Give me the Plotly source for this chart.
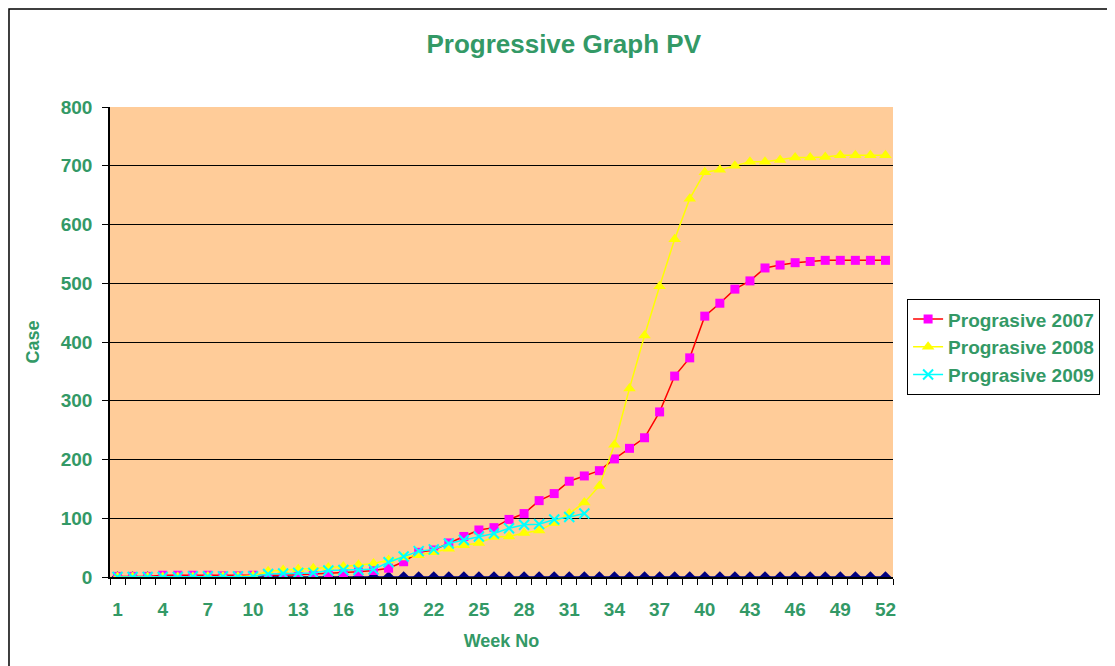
import plotly.graph_objects as go

weeks = list(range(1, 53))

prog_2007 = [1, 1, 1, 3, 3, 3, 3, 2, 2, 3, 3, 3, 4, 5, 6, 7, 9, 11, 15, 26,
             42, 46, 58, 69, 80, 84, 98, 108, 130, 142, 163, 172, 181, 201, 219, 237,
             281, 342, 373, 444, 466, 490, 504, 526, 531, 535, 537, 539, 539, 539, 539, 539]
prog_2008 = [0, 0, 0, 0, 0, 0, 1, 1, 1, 2, 10, 12, 13, 15, 16, 18, 21, 23, 29, 33,
             37, 42, 48, 54, 58, 68, 69, 75, 79, 92, 108, 127, 155, 225, 321, 411,
             495, 575, 644, 689, 693, 700, 707, 707, 710, 714, 714, 715, 718, 718, 718, 718]
prog_2009 = [0, 0, 0, 0, 0, 1, 1, 1, 1, 1, 5, 6, 7, 7, 11, 12, 12, 13, 25, 35,
             44, 47, 57, 63, 69, 74, 83, 89, 90, 98, 102, 108]
baseline = [0] * 52

x_ticks = list(range(1, 53, 3))

GREEN = "rgb(51, 153, 102)"
FONT = "Arial, Liberation Sans, sans-serif"

fig = go.Figure()
fig.add_trace(go.Scatter(x=weeks, y=baseline, mode="lines+markers", showlegend=False,
                         line=dict(color="#000080", width=1.5),
                         marker=dict(symbol="diamond", size=9, color="#000080")))
fig.add_trace(go.Scatter(x=weeks, y=prog_2007, mode="lines+markers", name="Prograsive 2007",
                         line=dict(color="#FF0000", width=1.5),
                         marker=dict(symbol="square", size=9, color="#FF00FF")))
fig.add_trace(go.Scatter(x=weeks, y=prog_2008, mode="lines+markers", name="Prograsive 2008",
                         line=dict(color="#FFFF00", width=1.5),
                         marker=dict(symbol="triangle-up", size=11, color="#FFFF00")))
fig.add_trace(go.Scatter(x=weeks[:len(prog_2009)], y=prog_2009, mode="lines+markers",
                         name="Prograsive 2009",
                         line=dict(color="#00FFFF", width=1.5),
                         marker=dict(symbol="x-thin", size=10, color="#00FFFF",
                                     line=dict(color="#00FFFF", width=2))))

fig.update_xaxes(range=[0.5, 52.5], tickmode="array", tickvals=x_ticks, ticks="",
                 showline=True, linecolor="black", linewidth=1.5, showgrid=False, zeroline=False,
                 ticklabelstandoff=14,
                 tickfont=dict(family=FONT, size=19, color=GREEN, weight="bold"),
                 minor=dict(tickmode="array", tickvals=[w + 0.5 for w in range(0, 53)],
                            ticks="outside", ticklen=6, tickcolor="black", showgrid=False),
                 title=dict(text="Week No", standoff=16,
                            font=dict(family=FONT, size=18, color=GREEN, weight="bold")))
fig.update_yaxes(range=[0, 800], dtick=100, ticks="outside", ticklen=6, tickcolor="black",
                 showline=True, linecolor="black", linewidth=1.5,
                 gridcolor="black", gridwidth=1, zeroline=False, ticklabelstandoff=6,
                 tickfont=dict(family=FONT, size=19, color=GREEN, weight="bold"),
                 title=dict(text="Case", standoff=16,
                            font=dict(family=FONT, size=18, color=GREEN, weight="bold")))

# outer chart frame (right and bottom edges fall outside the picture)
fig.add_shape(type="rect", xref="paper", yref="paper", x0=-0.129, x1=1.5, y0=-0.3, y1=1.2085,
              line=dict(color="black", width=1.5), layer="below")

fig.update_layout(
    width=1107, height=658,
    margin=dict(l=102, r=222, t=99, b=89),
    paper_bgcolor="white", plot_bgcolor="#FFCC99",
    title=dict(text="Progressive Graph PV", x=0.502, xanchor="center", y=0.945, yanchor="middle",
               font=dict(family=FONT, size=26, color=GREEN, weight="bold")),
    legend=dict(x=1.018, y=0.591, xanchor="left", yanchor="top", bgcolor="white",
                bordercolor="black", borderwidth=1, tracegroupgap=0,
                font=dict(family=FONT, size=19, color=GREEN, weight="bold")),
)

fig.write_html("out.html")
